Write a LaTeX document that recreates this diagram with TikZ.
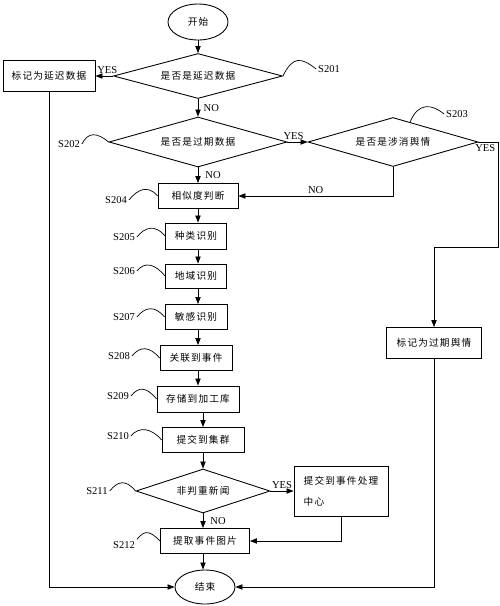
\documentclass[tikz,border=0pt]{standalone}
\usepackage{fontspec}
\setmainfont{Liberation Serif}
\newfontfamily\cjk{Noto Sans CJK SC}[LetterSpace=12]
\usetikzlibrary{arrows.meta, shapes.geometric, calc}

\begin{document}
\begin{tikzpicture}[x=0.02cm, y=-0.02cm,
    box/.style={rectangle, draw, line width=0.5pt, inner sep=0pt, minimum height=0.5cm, font=\cjk\fontsize{5.5}{7}\selectfont},
    dec/.style={diamond, draw, line width=0.5pt, inner sep=0pt, shape aspect=3.5, font=\cjk\fontsize{5.5}{7}\selectfont},
    term/.style={ellipse, draw, line width=0.5pt, inner sep=0pt, minimum width=1.2cm, font=\cjk\fontsize{5.5}{7}\selectfont},
    arr/.style={-{Triangle[length=4pt,width=3pt]}, line width=0.5pt},
    lbl/.style={inner sep=1pt, font=\fontsize{6}{7}\selectfont},
    squig/.style={line width=0.4pt}]
    \useasboundingbox (0,0) rectangle (500,606);

    \node[term, minimum height=0.72cm] at (198, 22)   (start) {开始};
    \node[dec, minimum width=3.38cm, minimum height=0.9cm] at (198, 76)   (d1) {是否是延迟数据};
    \node[box, minimum width=1.84cm, minimum height=0.62cm] at (49, 76)   (late) {标记为延迟数据};
    \node[dec, minimum width=3.56cm, minimum height=1cm] at (198, 142)   (d2) {是否是过期数据};
    \node[dec, minimum width=3.4cm, minimum height=0.98cm] at (393, 142)   (d3) {是否是涉消舆情};
    \node[box, minimum width=1.6cm] at (198, 196)   (b204) {相似度判断};
    \node[box, minimum width=1.22cm, minimum height=0.52cm] at (196, 236)   (b205) {种类识别};
    \node[box, minimum width=1.22cm, minimum height=0.48cm] at (196, 276)   (b206) {地域识别};
    \node[box, minimum width=1.24cm] at (196, 317)   (b207) {敏感识别};
    \node[box, minimum width=1.44cm] at (196, 358)   (b208) {关联到事件};
    \node[box, minimum width=1.64cm, minimum height=0.52cm] at (198, 399)   (b209) {存储到加工库};
    \node[box, minimum width=1.64cm] at (203, 440)   (b210) {提交到集群};
    \node[dec, minimum width=2.68cm, minimum height=0.88cm] at (203, 491)   (d4) {非判重新闻};
    \node[box, minimum width=1.88cm, minimum height=1cm, align=left] at (341, 491)   (center) {提交到事件处理\\[5pt]中心};
    \node[box, minimum width=1.78cm] at (205, 541)   (b212) {提取事件图片};
    \node[term, minimum height=0.68cm] at (205, 587)   (end) {结束};
    \node[box, minimum width=1.9cm, minimum height=0.62cm] at (434, 343)   (expired) {标记为过期舆情};
    \coordinate (turn) at (498, 247);

    % step labels
    \node[lbl] at (329, 69)   (l201) {S201};
    \node[lbl] at (69, 144)   (l202) {S202};
    \node[lbl] at (457, 114)   (l203) {S203};
    \node[lbl] at (116, 200)   (l204) {S204};
    \node[lbl] at (124, 237)   (l205) {S205};
    \node[lbl] at (124, 271)   (l206) {S206};
    \node[lbl] at (124, 317)   (l207) {S207};
    \node[lbl] at (119, 356)   (l208) {S208};
    \node[lbl] at (118, 396)   (l209) {S209};
    \node[lbl] at (118, 436)   (l210) {S210};
    \node[lbl] at (97, 491)   (l211) {S211};
    \node[lbl] at (124, 545)   (l212) {S212};

    \draw[squig] (d1.east) .. controls +(10,-20) and +(-15,-12) .. (l201.west);
    \draw[squig] (l202.east) .. controls +(6,-12) and +(-12,-10) .. (d2.west);
    \draw[squig] ($(d3.north)!0.2!(d3.east)$) .. controls +(8,-20) and +(-12,-10) .. (l203.west);
    \draw[squig] (l204.east) .. controls +(8,-10) and +(-10,-12) .. (b204.west);
    \draw[squig] (l205.east) .. controls +(8,-10) and +(-10,-12) .. (b205.west);
    \draw[squig] (l206.east) .. controls +(8,-10) and +(-10,-12) .. (b206.west);
    \draw[squig] (l207.east) .. controls +(8,-10) and +(-10,-12) .. (b207.west);
    \draw[squig] (l208.east) .. controls +(8,-10) and +(-10,-12) .. (b208.west);
    \draw[squig] (l209.east) .. controls +(8,-10) and +(-10,-12) .. (b209.west);
    \draw[squig] (l210.east) .. controls +(8,-10) and +(-10,-12) .. (b210.west);
    \draw[squig] (l211.east) .. controls +(8,-10) and +(-10,-12) .. (d4.west);
    \draw[squig] (l212.north east) .. controls +(8,-10) and +(-10,-10) .. (b212.west);

    % connectors
    \draw[arr] (start) -- (d1);
    \draw[arr] (d1.west) -- node[lbl, above, pos=0.33] {YES} (late.east);
    \draw[arr] (d1) -- node[lbl, right, xshift=2pt] {NO} (d2);
    \draw[arr] (d2) -- node[lbl, right, xshift=3pt] {NO} (b204);
    \draw[arr] (d2.east) -- node[lbl, above, pos=0.3] {YES} (d3.west);
    \draw[arr] (d3.east) node[lbl, below right, xshift=-3pt] {YES} -| (turn) -| (expired.north);
    \draw[arr] (d3.south) |- node[lbl, above, pos=0.75] {NO} (b204.east);
    \draw[arr] (b204.south) -- (b204.south |- b205.north);
    \draw[arr] (b205.south -| b204.south) -- (b204.south |- b206.north);
    \draw[arr] (b206.south -| b204.south) -- (b204.south |- b207.north);
    \draw[arr] (b207.south -| b204.south) -- (b204.south |- b208.north);
    \draw[arr] (b208.south -| b204.south) -- (b204.south |- b209.north);
    \draw[arr] (b209.south -| b210.north) -- (b210.north);
    \draw[arr] (b210) -- (d4);
    \draw[arr] (d4.east) -- node[lbl, above] {YES} (center.west);
    \draw[arr] (d4.south) -- node[lbl, right, xshift=3pt] {NO} (d4.south |- b212.north);
    \draw[arr] (center.south) |- (b212.east);
    \draw[arr] (b212.south -| d4.south) -- (d4.south |- end.north);
    \draw[arr] (late.south) |- (end.west);
    \draw[arr] (expired.south) |- (end.east);
\end{tikzpicture}
\end{document}
